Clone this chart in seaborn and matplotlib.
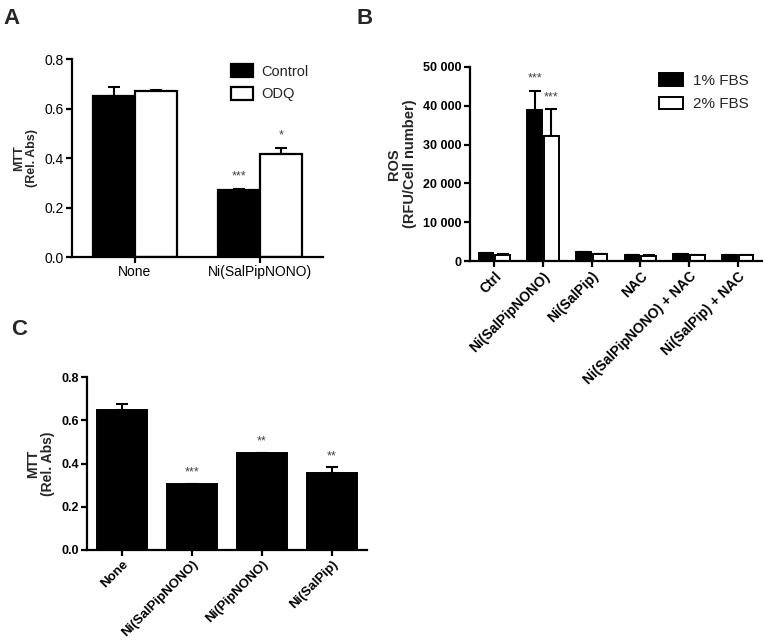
import matplotlib
matplotlib.use("Agg")
import matplotlib.pyplot as plt
import seaborn as sns
import pandas as pd
import numpy as np

# ---------------- data ----------------
A_groups = ["None", "Ni(SalPipNONO)"]
A_conditions = ["Control", "ODQ"]
A_control = [0.65, 0.27]
A_control_err = [0.035, 0.005]
A_odq = [0.67, 0.415]
A_odq_err = [0.003, 0.024]
A_stars_control = ["", "***"]
A_stars_odq = ["", "*"]
A_yticks = [0.0, 0.2, 0.4, 0.6, 0.8]

B_groups = ["Ctrl", "Ni(SalPipNONO)", "Ni(SalPip)", "NAC",
            "Ni(SalPipNONO) + NAC", "Ni(SalPip) + NAC"]
B_conditions = ["1% FBS", "2% FBS"]
B_fbs1 = [1950, 38900, 2250, 1550, 1800, 1550]
B_fbs1_err = [0, 5000, 0, 0, 0, 0]
B_fbs2 = [1550, 32200, 1800, 1370, 1470, 1450]
B_fbs2_err = [150, 7000, 80, 80, 80, 80]
B_stars_fbs1 = ["", "***", "", "", "", ""]
B_stars_fbs2 = ["", "***", "", "", "", ""]
B_yticks = [0, 10000, 20000, 30000, 40000, 50000]

C_groups = ["None", "Ni(SalPipNONO)", "Ni(PipNONO)", "Ni(SalPip)"]
C_values = [0.648, 0.304, 0.447, 0.356]
C_err = [0.027, 0.003, 0.003, 0.026]
C_stars = ["", "***", "**", "**"]
C_yticks = [0.0, 0.2, 0.4, 0.6, 0.8]

# ---------------- style ----------------
sns.set_style("ticks")
plt.rcParams["font.family"] = ["Liberation Sans", "DejaVu Sans"]
plt.rcParams["axes.linewidth"] = 1.6
plt.rcParams["xtick.major.width"] = 1.6
plt.rcParams["ytick.major.width"] = 1.6
plt.rcParams["xtick.major.size"] = 4
plt.rcParams["ytick.major.size"] = 4
plt.rcParams["xtick.color"] = "black"
plt.rcParams["ytick.color"] = "black"
plt.rcParams["axes.edgecolor"] = "black"

W, H = 763, 644
fig = plt.figure(figsize=(W / 100, H / 100), dpi=100)


def px_axes(left, top, right, bottom):
    return fig.add_axes([left / W, 1 - bottom / H, (right - left) / W, (bottom - top) / H])


def add_errors(ax, bars, errs):
    xs = [b.get_x() + b.get_width() / 2 for b in bars]
    ys = [b.get_height() for b in bars]
    ax.errorbar(xs, ys, yerr=[np.zeros(len(errs)), errs], fmt="none",
                ecolor="black", elinewidth=1.5, capsize=4.5, capthick=1.5, zorder=1)


def add_stars(ax, bars, errs, stars, pad, fs=9):
    for b, e, s in zip(bars, errs, stars):
        if s:
            ax.text(b.get_x() + b.get_width() / 2, b.get_height() + e + pad, s,
                    ha="center", va="bottom", fontsize=fs, color="#444444")


def style_axes(ax):
    sns.despine(ax=ax)
    ax.tick_params(direction="out", pad=2)
    ax.set_xlabel("")


# ---------------- Panel A ----------------
axA = px_axes(72, 59, 323, 257)
dfA = pd.DataFrame({
    "group": A_groups * 2,
    "cond": [A_conditions[0]] * 2 + [A_conditions[1]] * 2,
    "value": A_control + A_odq,
})
sns.barplot(data=dfA, x="group", y="value", hue="cond", order=A_groups,
            hue_order=A_conditions, palette={"Control": "black", "ODQ": "white"},
            edgecolor="black", linewidth=1.6, width=0.67, errorbar=None, ax=axA,
            zorder=2)
for cont, errs, stars in zip(axA.containers, [A_control_err, A_odq_err],
                             [A_stars_control, A_stars_odq]):
    add_errors(axA, cont, errs)
    add_stars(axA, cont, errs, stars, pad=0.028)
axA.set_xlim(-0.5, 1.5)
axA.set_ylim(0, 0.8)
axA.set_yticks(A_yticks)
axA.set_yticklabels([f"{v:.1f}" for v in A_yticks])
axA.tick_params(labelsize=10)
axA.set_ylabel("MTT\n(Rel. Abs)", fontsize=9, fontweight="bold", linespacing=1.1)
axA.yaxis.set_label_coords(-0.135, 0.5)
style_axes(axA)
axA.legend(handles=[c[0] for c in axA.containers], labels=A_conditions,
           frameon=False, loc="upper left", bbox_to_anchor=(0.58, 1.04),
           fontsize=10.5, handlelength=1.5, handleheight=1.0, handletextpad=0.6,
           labelspacing=0.55)

# ---------------- Panel B ----------------
axB = px_axes(470, 67, 762, 261)
dfB = pd.DataFrame({
    "group": B_groups * 2,
    "cond": [B_conditions[0]] * 6 + [B_conditions[1]] * 6,
    "value": B_fbs1 + B_fbs2,
})
sns.barplot(data=dfB, x="group", y="value", hue="cond", order=B_groups,
            hue_order=B_conditions, palette={"1% FBS": "black", "2% FBS": "white"},
            edgecolor="black", linewidth=1.4, width=0.68, gap=0.12, errorbar=None,
            ax=axB, zorder=2)
for cont, errs, stars in zip(axB.containers, [B_fbs1_err, B_fbs2_err],
                             [B_stars_fbs1, B_stars_fbs2]):
    add_errors(axB, cont, errs)
    add_stars(axB, cont, errs, stars, pad=1500)
axB.set_xlim(-0.5, 5.5)
axB.set_ylim(0, 50000)
axB.set_yticks(B_yticks)
axB.set_yticklabels([f"{v:,.0f}".replace(",", " ") for v in B_yticks])
axB.tick_params(axis="y", labelsize=9)
axB.tick_params(axis="x", labelsize=10)
for lab in axB.get_yticklabels():
    lab.set_fontweight("bold")
plt.setp(axB.get_xticklabels(), rotation=45, ha="right", rotation_mode="anchor",
         fontweight="bold")
axB.set_ylabel("ROS\n(RFU/Cell number)", fontsize=10.5, fontweight="bold",
               linespacing=1.2)
axB.yaxis.set_label_coords(-0.18, 0.5)
style_axes(axB)
axB.legend(handles=[c[0] for c in axB.containers], labels=B_conditions,
           frameon=False, loc="upper left", bbox_to_anchor=(0.6, 1.04),
           fontsize=11, handlelength=1.6, handleheight=0.9, handletextpad=0.6,
           labelspacing=0.6)

# ---------------- Panel C ----------------
axC = px_axes(87, 377, 367, 550)
dfC = pd.DataFrame({"group": C_groups, "value": C_values})
sns.barplot(data=dfC, x="group", y="value", order=C_groups, color="black",
            edgecolor="black", linewidth=1.4, width=0.71, errorbar=None, ax=axC,
            zorder=2)
barsC = axC.containers[0]
add_errors(axC, barsC, C_err)
add_stars(axC, barsC, C_err, C_stars, pad=0.024)
axC.set_xlim(-0.5, 3.5)
axC.set_ylim(0, 0.8)
axC.set_yticks(C_yticks)
axC.set_yticklabels([f"{v:.1f}" for v in C_yticks])
axC.tick_params(axis="y", labelsize=9)
axC.tick_params(axis="x", labelsize=9.5)
for lab in axC.get_yticklabels():
    lab.set_fontweight("bold")
plt.setp(axC.get_xticklabels(), rotation=45, ha="right", rotation_mode="anchor",
         fontweight="bold")
axC.set_ylabel("MTT\n(Rel. Abs)", fontsize=10, fontweight="bold", linespacing=1.1)
axC.yaxis.set_label_coords(-0.114, 0.5)
style_axes(axC)

# ---------------- panel letters ----------------
fig.text(3 / W, 1 - 8 / H, "A", fontsize=16, fontweight="bold", va="top", ha="left")
fig.text(357 / W, 1 - 8 / H, "B", fontsize=16, fontweight="bold", va="top", ha="left")
fig.text(11 / W, 1 - 319 / H, "C", fontsize=16, fontweight="bold", va="top", ha="left")

fig.savefig("out.png", dpi=100)
